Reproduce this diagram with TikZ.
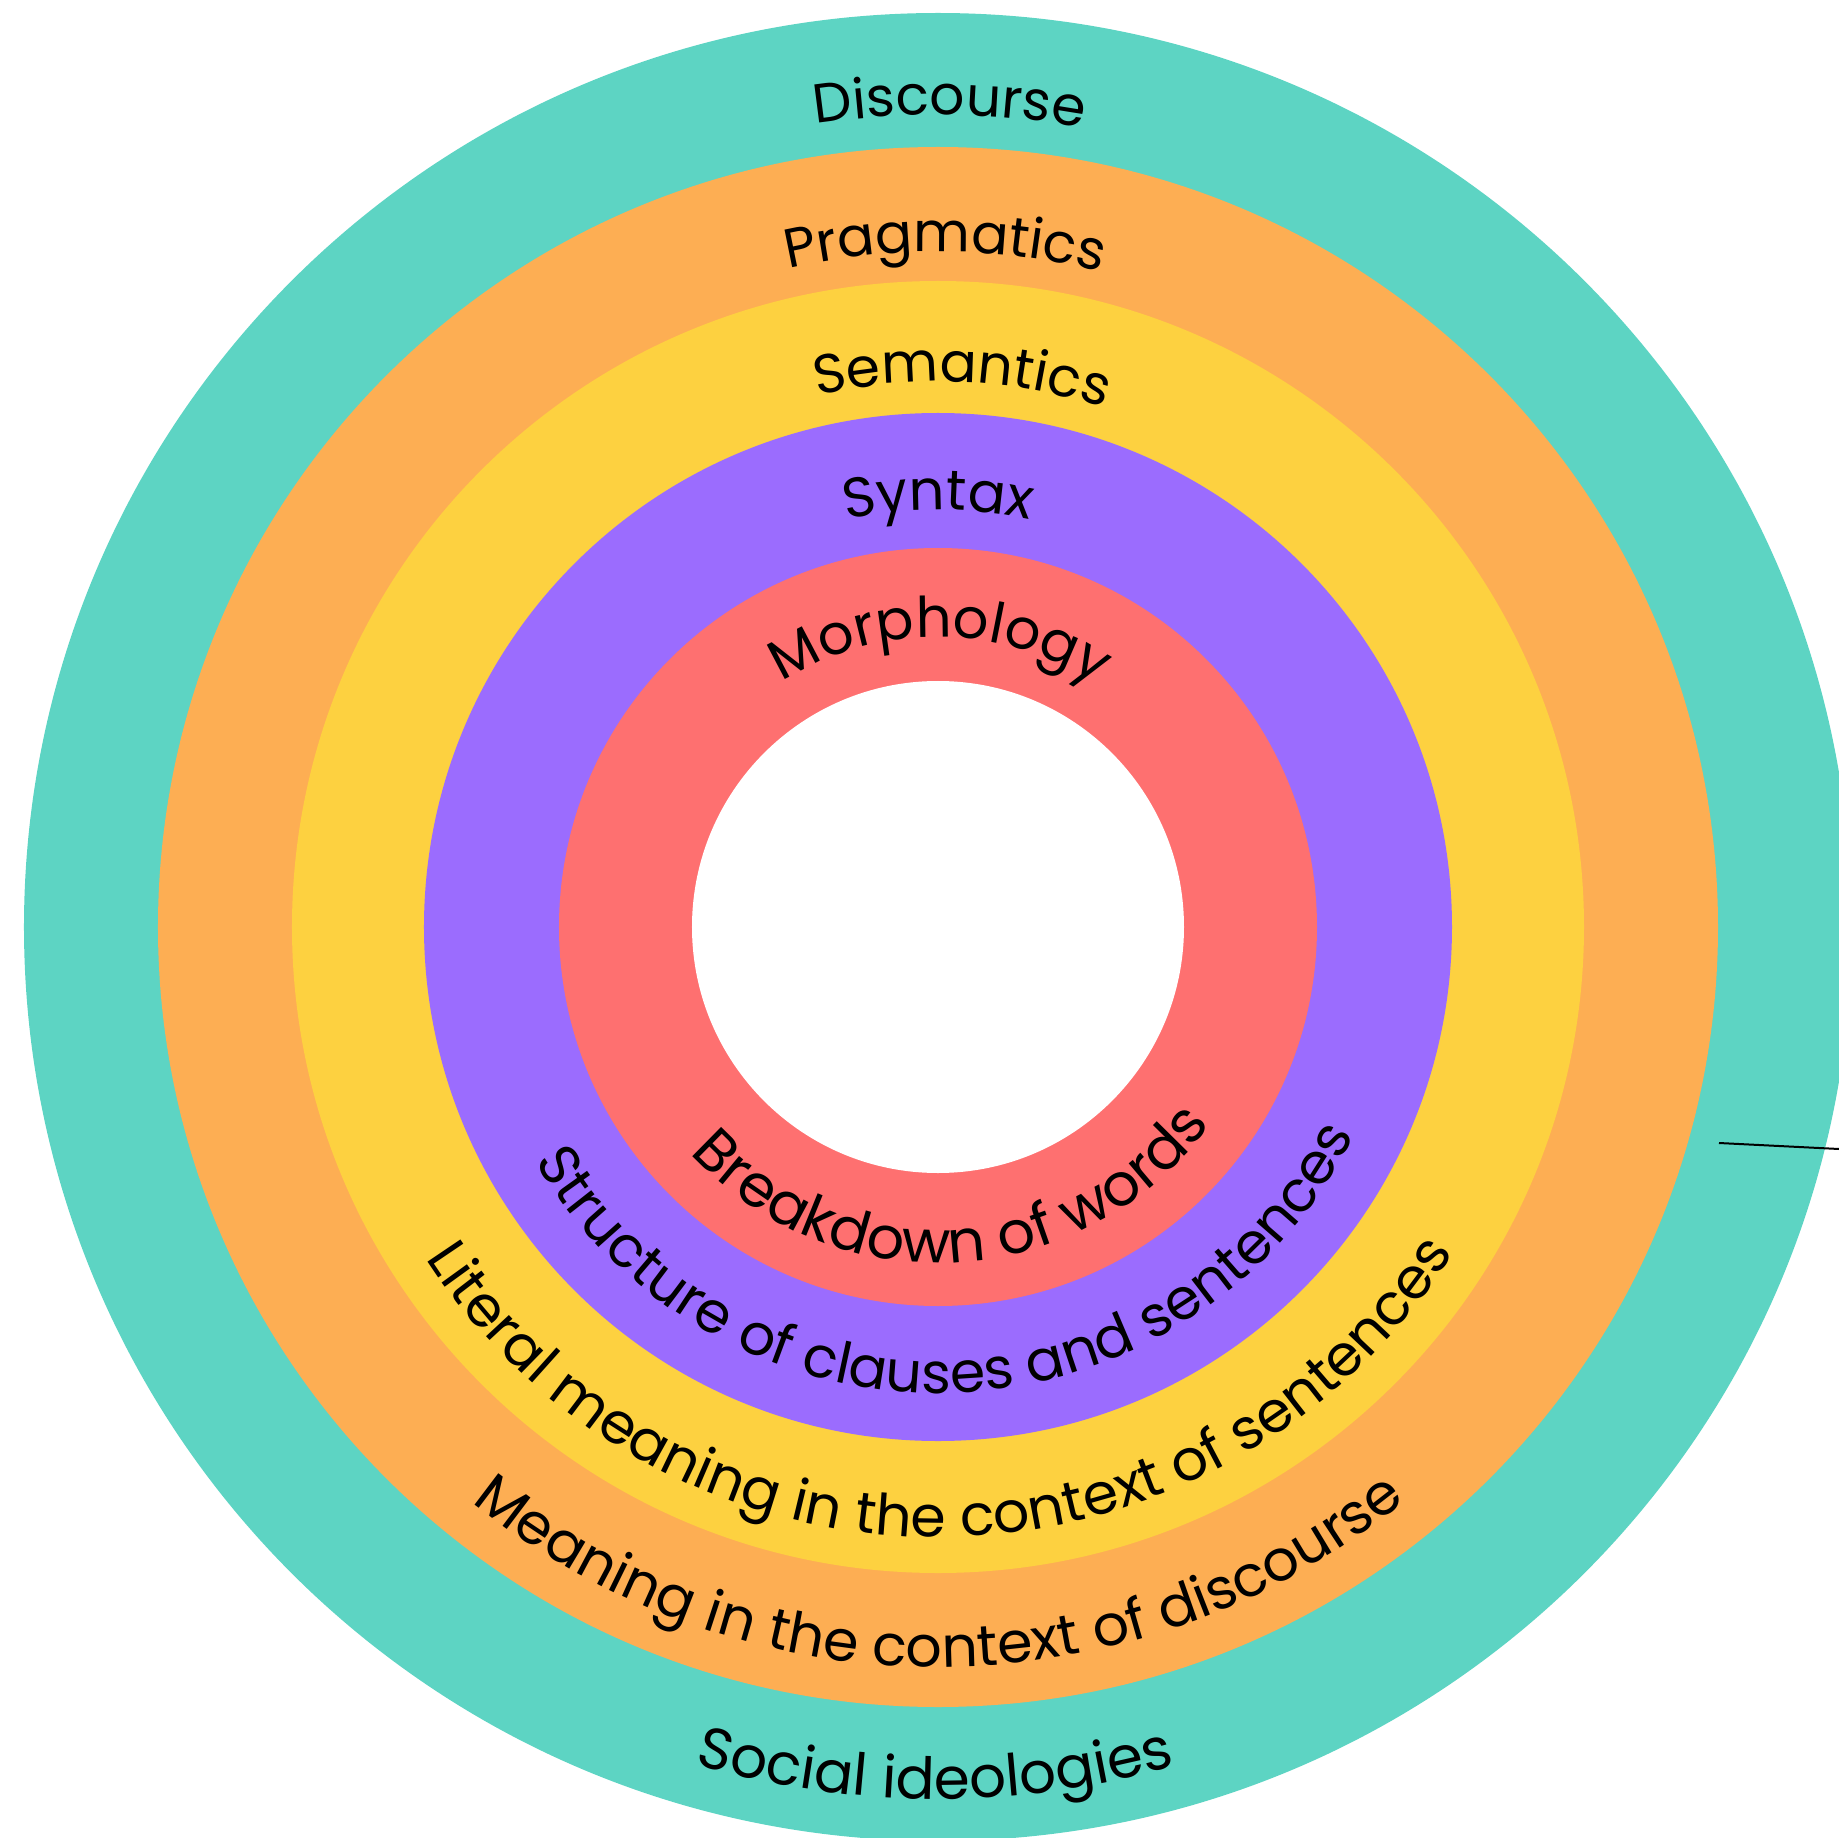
\documentclass[tikz,border=0pt]{standalone}
\usepackage{fontspec}
\setmainfont{Poppins}
\usetikzlibrary{decorations.text}
\definecolor{cteal}{RGB}{93,212,195}
\definecolor{corange}{RGB}{253,174,83}
\definecolor{cyellow}{RGB}{253,209,64}
\definecolor{cpurple}{RGB}{155,108,254}
\definecolor{cred}{RGB}{254,112,112}
\tikzset{
  ring/.style={fill=#1, draw=none},
  arclabel/.style 2 args={decorate, decoration={text along path, text align=center, text={|\fontsize{#1}{#1}\selectfont|#2}}},
  leader/.style={draw=black, line width=2pt},
}
\begin{document}
\begin{tikzpicture}
\useasboundingbox (-938pt,-910pt) rectangle (901pt,927pt);
\begin{scope}
\clip (-938pt,-910pt) rectangle (901pt,927pt);
\fill[ring=cteal]   (0,0) circle[radius=914pt];
\fill[ring=corange] (0,0) circle[radius=780pt];
\fill[ring=cyellow] (0,0) circle[radius=646pt];
\fill[ring=cpurple] (0,0) circle[radius=514pt];
\fill[ring=cred]    (0,0) circle[radius=379pt];
\fill[ring=white]   (0,0) circle[radius=246pt];
\end{scope}
% top labels
\path[arclabel={55pt}{Discourse}]  (159.2:812pt) arc[start angle=159.2, end angle=19.2, radius=812pt];
\path[arclabel={55pt}{Pragmatics}] (159.4:675pt) arc[start angle=159.4, end angle=19.4, radius=675pt];
\path[arclabel={55pt}{Semantics}]  (157.5:545pt) arc[start angle=157.5, end angle=17.5, radius=545pt];
\path[arclabel={56pt}{Syntax}]     (160:417pt) arc[start angle=160, end angle=20, radius=417pt];
\path[arclabel={56pt}{Morphology}] (159.6:290pt) arc[start angle=159.6, end angle=19.6, radius=290pt];
% bottom labels
\path[arclabel={59pt}{Breakdown of words}] (203.2:336pt) arc[start angle=203.2, end angle=343.2, radius=336pt];
\path[arclabel={57pt}{Structure of clauses and sentences}] (201.8:466pt) arc[start angle=201.8, end angle=341.8, radius=466pt];
\path[arclabel={57pt}{Literal meaning in the context of sentences}] (200.3:610pt) arc[start angle=200.3, end angle=340.3, radius=610pt];
\path[arclabel={57pt}{Meaning in the context of discourse}] (200.1:740pt) arc[start angle=200.1, end angle=340.1, radius=740pt];
\path[arclabel={58pt}{Social ideologies}] (199.8:872pt) arc[start angle=199.8, end angle=339.8, radius=872pt];
% leader line
\coordinate (leadA) at (781pt,-216pt);
\coordinate (leadB) at (901pt,-222pt);
\draw[leader] (leadA) -- (leadB);
\end{tikzpicture}
\end{document}
